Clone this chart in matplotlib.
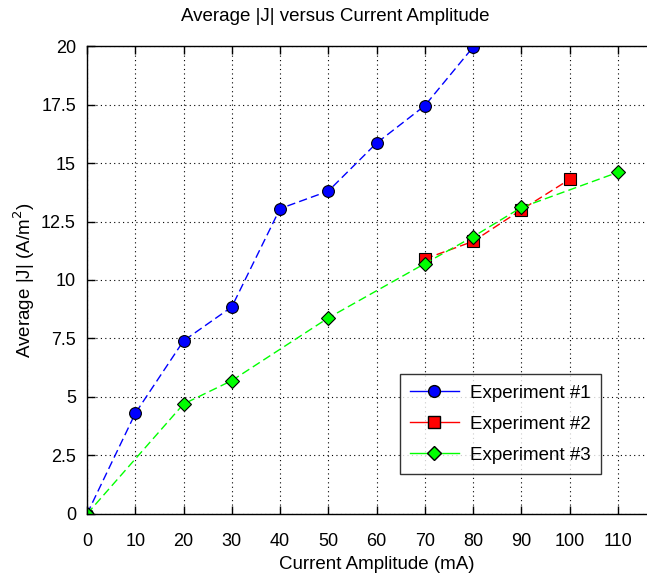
import matplotlib
matplotlib.use("Agg")
from matplotlib import pyplot as plt
from matplotlib.lines import Line2D
import numpy as np

plt.rcParams['font.family'] = ['Liberation Sans', 'DejaVu Sans']

x1 = [0, 10, 20, 30, 40, 50, 60, 70, 80]
y1 = [0, 4.3, 7.4, 8.85, 13.05, 13.8, 15.85, 17.45, 19.95]
x2 = [70, 80, 90, 100]
y2 = [10.9, 11.65, 13.0, 14.3]
x3 = [0, 20, 30, 50, 70, 80, 90, 110]
y3 = [0, 4.7, 5.7, 8.38, 10.7, 11.85, 13.1, 14.6]
names = ['Experiment #1', 'Experiment #2', 'Experiment #3']
xticks = np.arange(0, 121, 10)
xticklabels = [str(v) for v in xticks[:-1]] + ['']
yticks = np.arange(0, 20.1, 2.5)
yticklabels = ['%g' % v for v in yticks]

fig = plt.figure(figsize=(6.47, 5.73), dpi=100)
ax = fig.add_axes([0.1345, 0.103, 0.895, 0.8167])

ax.plot(x1, y1, color='blue', lw=1, dashes=(6, 3), marker='o', ms=8.5,
        mfc='blue', mec='black', mew=0.8)
ax.plot(x2, y2, color='red', lw=1, dashes=(6, 3), marker='s', ms=8.5,
        mfc='red', mec='black', mew=0.8)
ax.plot(x3, y3, color='#00ff00', lw=1, dashes=(6, 3), marker='D', ms=7,
        mfc='#00ff00', mec='black', mew=0.8)

ax.set_xlim(0, 120)
ax.set_ylim(0, 20)
ax.set_xticks(xticks)
ax.set_xticklabels(xticklabels)
ax.set_yticks(yticks)
ax.set_yticklabels(yticklabels)
ax.grid(True, color='black', linestyle=(0, (1, 3)), lw=0.8)
ax.tick_params(direction='in', length=6, width=1, labelsize=13,
               top=True, right=True)
ax.tick_params(axis='x', pad=14)
ax.tick_params(axis='y', pad=8)
for s in ax.spines.values():
    s.set_linewidth(1)

ax.set_title('Average |J| versus Current Amplitude', fontsize=13.5, x=0.428, pad=18)
ax.set_xlabel('Current Amplitude (mA)', fontsize=13.5, labelpad=4)
ax.set_ylabel('Average |J| (A/m$^2$)', fontsize=13.5, labelpad=3)

handles = [
    Line2D([], [], color='blue', lw=1, marker='o', ms=8.5, mfc='blue', mec='black'),
    Line2D([], [], color='red', lw=1, marker='s', ms=8.5, mfc='red', mec='black'),
    Line2D([], [], color='#00ff00', lw=1, marker='D', ms=7, mfc='#00ff00', mec='black'),
]
leg = ax.legend(handles, names, loc='lower left', bbox_to_anchor=(0.540, 0.085),
                fontsize=13.5, frameon=True, fancybox=False, handlelength=2.6,
                handletextpad=0.6, borderpad=0.55, labelspacing=0.75,
                borderaxespad=0, edgecolor='black')
leg.get_frame().set_linewidth(1)

fig.savefig('out.png', dpi=100)
